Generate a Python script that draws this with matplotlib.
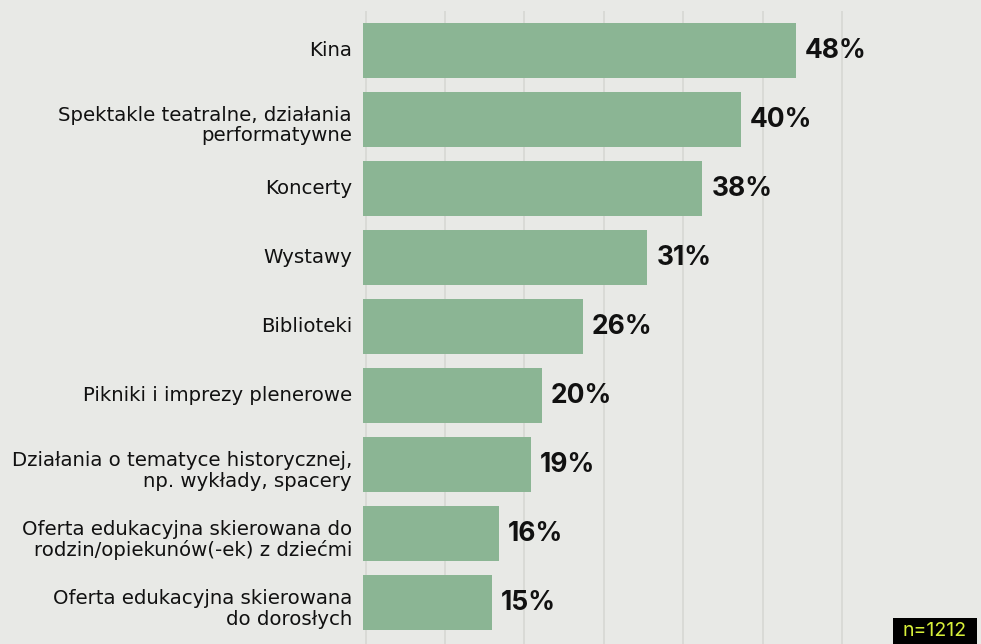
import matplotlib
matplotlib.use("Agg")
import matplotlib.pyplot as plt
from matplotlib.patches import Rectangle

categories = [
    "Kina",
    "Spektakle teatralne, działania\nperformatywne",
    "Koncerty",
    "Wystawy",
    "Biblioteki",
    "Pikniki i imprezy plenerowe",
    "Działania o tematyce historycznej,\nnp. wykłady, spacery",
    "Oferta edukacyjna skierowana do\nrodzin/opiekunów(-ek) z dziećmi",
    "Oferta edukacyjna skierowana\ndo dorosłych",
]
# bar lengths as drawn in the picture (percent)
values = [48.1, 42.0, 37.7, 31.6, 24.4, 19.9, 18.7, 15.1, 14.3]
value_labels = ["48%", "40%", "38%", "31%", "26%", "20%", "19%", "16%", "15%"]
grid_x = [0.33, 9.15, 17.9, 26.75, 35.6, 44.45, 53.2]
sample_label = "n=1212"

BG = "#e8e9e6"
BAR = "#8bb594"
GRID = "#d9dad6"
TXT = "#111111"
LABEL_FONT = ["DejaVu Sans"]
VALUE_FONT = ["Inter", "DejaVu Sans"]
N_FONT = ["Inter", "DejaVu Sans"]

W, H = 981, 644
fig = plt.figure(figsize=(W / 100, H / 100), dpi=100, facecolor=BG)
left_px = 363
ax = fig.add_axes([left_px / W, 0, (W - left_px) / W, 1])
ax.set_facecolor(BG)

pitch = 69.08
first_center = 50.2
ytop = -first_center / pitch
ybot = (H - first_center) / pitch
px_per_unit = 9.0
ax.set_xlim(0, (W - left_px) / px_per_unit)
ax.set_ylim(ybot, ytop)

grid_top = ytop + 11 / pitch
ax.vlines(grid_x, grid_top, ybot, colors=GRID, linewidth=1.4, zorder=0)

ys = list(range(len(categories)))
ax.barh(ys, values, height=55 / pitch, color=BAR, zorder=2)

for y, v, lab in zip(ys, values, value_labels):
    ax.annotate(lab, (v, y), xytext=(9, -7.5), textcoords="offset pixels",
                ha="left", va="baseline", fontsize=19, fontweight="bold",
                family=VALUE_FONT, color=TXT)

# category labels, line by line
line_gap = 20.5
for y, cat in zip(ys, categories):
    lines = cat.split("\n")
    if len(lines) == 1:
        offs = [5.5]
    else:
        offs = [1.5 + i * line_gap for i in range(len(lines))]
    for line, off in zip(lines, offs):
        ax.annotate(line, xy=(0, y), xycoords=("axes fraction", "data"),
                    xytext=(-11, -off), textcoords="offset pixels",
                    ha="right", va="baseline", fontsize=14.2,
                    family=LABEL_FONT, color=TXT)

ax.set_yticks([])
ax.set_xticks([])
for s in ax.spines.values():
    s.set_visible(False)

bx0, bx1, by0 = 893, 977, 618
fig.patches.append(Rectangle((bx0 / W, 0), (bx1 - bx0) / W, (H - by0) / H,
                             transform=fig.transFigure, facecolor="#000000",
                             edgecolor="none", zorder=5))
fig.text((bx0 + bx1) / 2 / W, (H - 631) / H, sample_label, ha="center", va="center",
         fontsize=14, family=N_FONT, color="#d8f03a", zorder=6)

fig.savefig("out.png", dpi=100, facecolor=BG)
